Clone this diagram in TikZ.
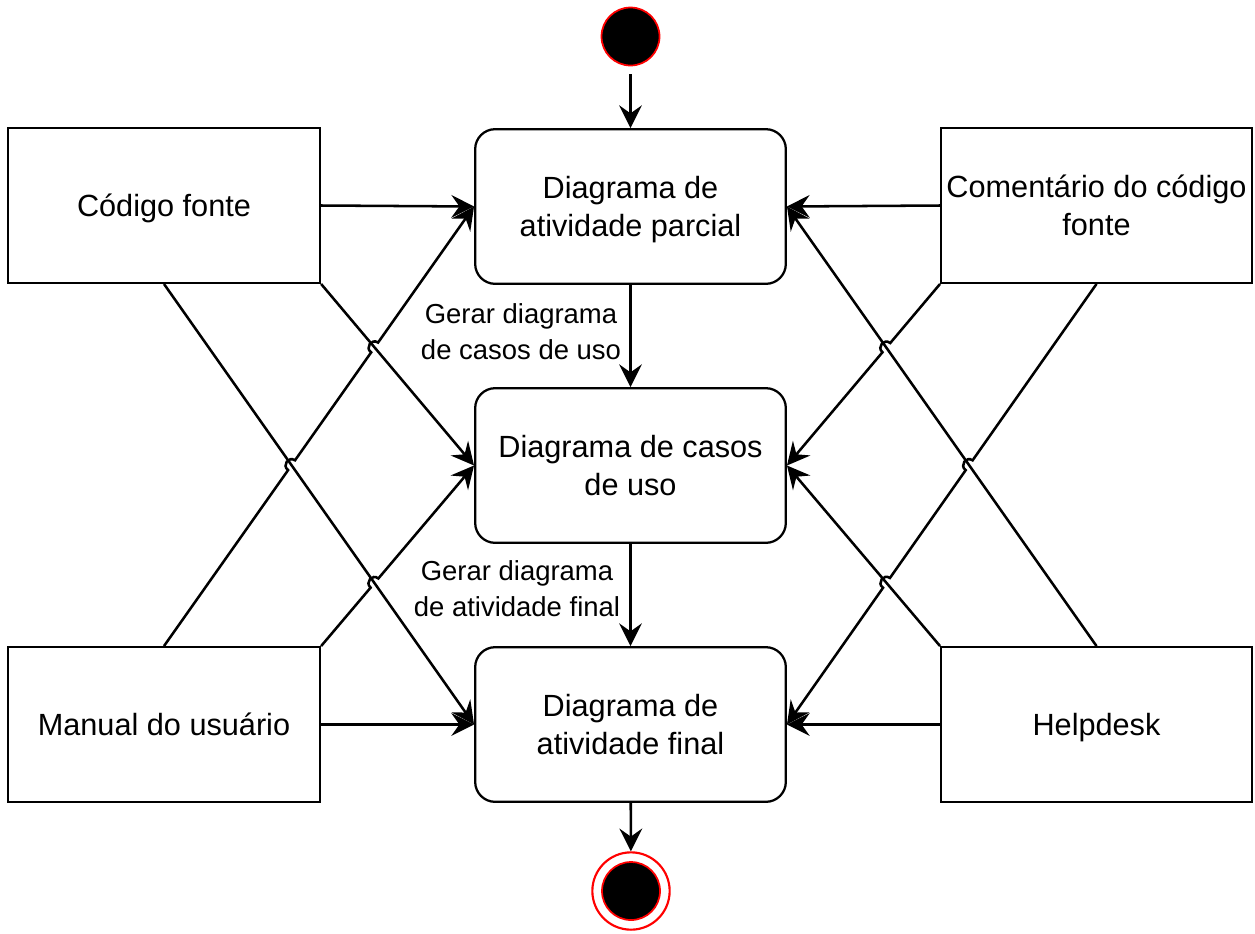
\documentclass[tikz,border=0pt]{standalone}
\usepackage{fontspec}
\setmainfont{Liberation Sans}
\usetikzlibrary{arrows.meta,calc,intersections}

\begin{document}
\begin{tikzpicture}[x=0.75pt,y=-0.75pt,
  box/.style={draw, line width=1.7pt, minimum width=233pt, minimum height=116pt,
    align=center, inner sep=0pt, text depth=0pt, font=\fontsize{23}{28.5}\selectfont},
  act/.style={box, rounded corners=15pt},
  flow/.style={line width=1.9pt, -{Stealth[length=17pt,width=17pt,inset=6pt]}},
  lbl/.style={align=center, inner sep=0pt, font=\fontsize{20.6}{27}\selectfont},
  hopl/.style={bend left=90, looseness=1.7},
  hopr/.style={bend right=90, looseness=1.7},
  startdot/.style={circle, fill=black, draw=red, line width=1.3pt, minimum size=43.5pt, inner sep=0pt},
  endring/.style={circle, fill=white, draw=red, line width=1.6pt, minimum size=58pt, inner sep=0pt}
]
\useasboundingbox (0,0) rectangle (1255,933);

% activity nodes
\node[startdot] (start) at (630.5,36.5) {};
\node[act] (p) at (630.5,206.5) {Diagrama de\\atividade parcial};
\node[act] (m) at (630.5,465.5) {Diagrama de casos\\de uso};
\node[act] (f) at (630.5,724.5) {Diagrama de\\atividade final};
\node[endring] (end) at (631,891) {};
\node[startdot] (endin) at (end) {};

% source boxes
\node[box, minimum width=234pt] (cf) at (164,205.5) {Código fonte};
\node[box, minimum width=234pt] (mu) at (164,724.5) {Manual do usuário};
\node[box] (cm) at (1096.5,205.5) {Comentário do código\\fonte};
\node[box] (hd) at (1096.5,724.5) {Helpdesk};

% main flow
\draw[flow, shorten <=6pt] (start) -- (p);
\draw[flow] (p) -- (m);
\draw[flow] (m) -- (f);
\draw[flow] (f) -- (end);
\node[lbl] (l1) at (521,332) {Gerar diagrama\\de casos de uso};
\node[lbl] (l2) at (517,589) {Gerar diagrama\\de atividade final};

% left inputs
\draw[flow] (cf.east) -- (p.west);
\draw[flow] (mu.east) -- (f.west);
\draw[flow, name path=d1] (cf.south east) -- (m.west);
\draw[flow, name path=d2] (cf.south) -- (f.west);
\path[name path=u1] (mu.north) -- (p.west);
\path[name path=u2] (mu.north east) -- (m.west);
\path[name intersections={of=u1 and d2, by=h1}];
\path[name intersections={of=u1 and d1, by=h2}];
\path[name intersections={of=u2 and d2, by=h3}];
\draw[flow] (mu.north) -- ($(h1)!4.5pt!(mu.north)$) to[hopl] ($(h1)!4.5pt!(p.west)$)
  -- ($(h2)!4.5pt!(mu.north)$) to[hopl] ($(h2)!4.5pt!(p.west)$) -- (p.west);
\draw[flow] (mu.north east) -- ($(h3)!4.5pt!(mu.north east)$) to[hopl] ($(h3)!4.5pt!(m.west)$) -- (m.west);

% right inputs
\draw[flow] (cm.west) -- (p.east);
\draw[flow] (hd.west) -- (f.east);
\draw[flow, name path=e1] (hd.north west) -- (m.east);
\draw[flow, name path=e2] (hd.north) -- (p.east);
\path[name path=v1] (cm.south west) -- (m.east);
\path[name path=v2] (cm.south) -- (f.east);
\path[name intersections={of=v1 and e2, by=k1}];
\path[name intersections={of=v2 and e2, by=k2}];
\path[name intersections={of=v2 and e1, by=k3}];
\draw[flow] (cm.south west) -- ($(k1)!4.5pt!(cm.south west)$) to[hopr] ($(k1)!4.5pt!(m.east)$) -- (m.east);
\draw[flow] (cm.south) -- ($(k2)!4.5pt!(cm.south)$) to[hopr] ($(k2)!4.5pt!(f.east)$)
  -- ($(k3)!4.5pt!(cm.south)$) to[hopr] ($(k3)!4.5pt!(f.east)$) -- (f.east);
\end{tikzpicture}
\end{document}
